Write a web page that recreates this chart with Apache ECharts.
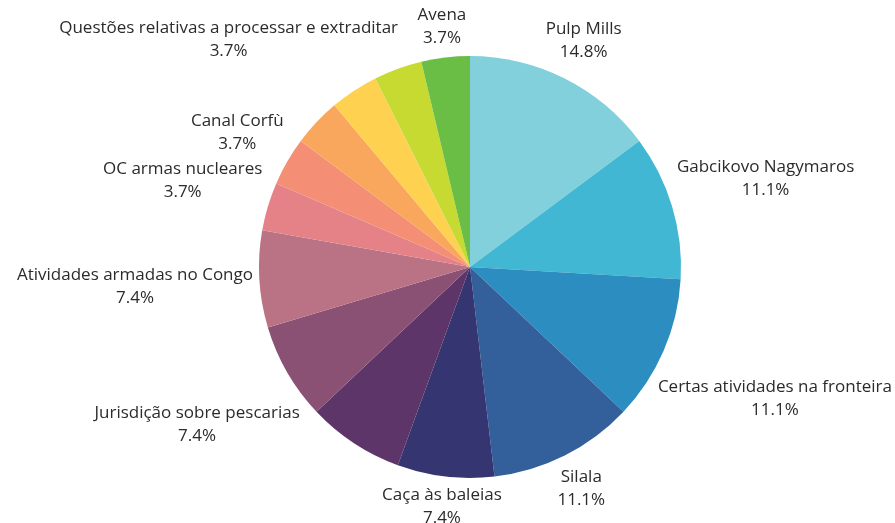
<!DOCTYPE html>
<html>
<head>
<meta charset="utf-8">
<script src="https://cdn.jsdelivr.net/npm/echarts@6/dist/echarts.min.js"></script>
<style>html,body{margin:0;padding:0;background:#fff;}#c{width:895px;height:523px;}</style>
</head>
<body>
<div id="c"></div>
<script>
const categories = [
  "Pulp Mills", "Gabcikovo Nagymaros", "Certas atividades na fronteira", "Silala",
  "Caça às baleias", "Genocídio", "Jurisdição sobre pescarias", "Atividades armadas no Congo",
  "OC armas nucleares", "Canal Corfù", "Questões relativas a processar e extraditar",
  "Mandado de detenção", "Imunidades jurisdicionais", "Avena"
];
const values = [4, 3, 3, 3, 2, 2, 2, 2, 1, 1, 1, 1, 1, 1];
const colors = [
  "#81D0DB", "#41B7D3", "#2C8DC1", "#33609B", "#343571", "#5E3568", "#8B5174",
  "#BA7385", "#E48288", "#F48E74", "#F8A75C", "#FED151", "#C7DA32", "#6BBE45"
];
const hiddenLabels = ["Genocídio", "Mandado de detenção", "Imunidades jurisdicionais"];

const chart = echarts.init(document.getElementById('c'), null, {renderer: 'canvas'});
const CX = 470, CY = 267, R = 211, CLEAR = 217;
const total = values.reduce((a, b) => a + b, 0);
const mids = [];
let acc = 0;
values.forEach(v => { mids.push((acc + v / 2) / total * 2 * Math.PI); acc += v; });

function nearestDist(cx, cy, w, h) {
  const dx = Math.max(Math.abs(cx) - w, 0), dy = Math.max(Math.abs(cy) - h, 0);
  return Math.sqrt(dx * dx + dy * dy);
}

chart.setOption({
  animation: false,
  color: colors,
  series: [{
    type: 'pie',
    center: [CX, CY],
    radius: R,
    startAngle: 90,
    clockwise: true,
    avoidLabelOverlap: false,
    itemStyle: { borderWidth: 0 },
    label: {
      show: true,
      position: 'outside',
      formatter: p => p.name + '\n' + (p.value / total * 100).toFixed(1) + '%',
      fontFamily: 'Open Sans',
      fontSize: 17,
      lineHeight: 23,
      color: '#2b2b2b',
      align: 'center'
    },
    labelLine: { show: false },
    labelLayout: function (params) {
      const a = mids[params.dataIndex];
      const ux = Math.sin(a), uy = -Math.cos(a);
      const w = params.labelRect.width / 2, h = params.labelRect.height / 2;
      let lo = 0, hi = 1000;
      for (let k = 0; k < 60; k++) {
        const mid = (lo + hi) / 2;
        if (nearestDist(mid * ux, mid * uy, w, h) < CLEAR) lo = mid; else hi = mid;
      }
      return { x: CX + hi * ux, y: CY + hi * uy, align: 'center', verticalAlign: 'middle' };
    },
    data: categories.map((n, i) => ({
      name: n,
      value: values[i],
      label: { show: hiddenLabels.indexOf(n) < 0 }
    }))
  }]
});
</script>
</body>
</html>
